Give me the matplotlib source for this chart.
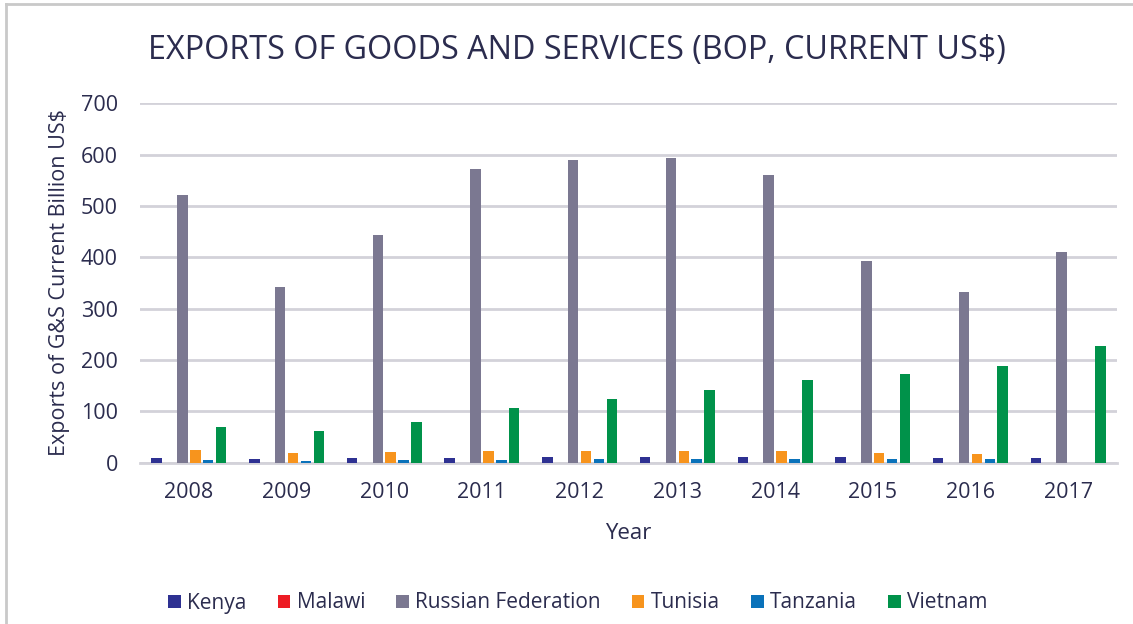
import matplotlib
matplotlib.use("Agg")
import matplotlib.pyplot as plt
import numpy as np
from matplotlib.lines import Line2D
from matplotlib.patches import Patch

years = ["2008", "2009", "2010", "2011", "2012", "2013", "2014", "2015", "2016", "2017"]
kenya = [9.5, 7, 9, 9, 10.5, 10.5, 10.5, 10.5, 9.5, 9]
malawi = [0.3, 0.3, 0.3, 0.3, 0.3, 0.3, 0.3, 0.3, 0.3, 0]
russia = [521, 342, 443, 573, 590, 593, 561, 392, 332, 410]
tunisia = [24, 19, 21, 22, 22, 22, 22, 18, 17, 0]
tanzania = [6, 4, 6, 6, 8, 8, 8, 8, 8, 0]
vietnam = [70, 62, 79, 107, 125, 142, 162, 172, 189, 227]

series = [("Kenya", kenya, "#2E3192"),
          ("Malawi", malawi, "#ED1C24"),
          ("Russian Federation", russia, "#7B7891"),
          ("Tunisia", tunisia, "#F7941D"),
          ("Tanzania", tanzania, "#0A72BA"),
          ("Vietnam", vietnam, "#00924A")]

text_col = "#2B2C4E"
font = "Open Sans"

fig = plt.figure(figsize=(11.33, 6.24), dpi=100)
ax = fig.add_axes([140/1133, 1-462.7/624, (1117-140)/1133, (462.7-103.3)/624])

x = np.arange(len(years))
slot = 0.132
bw = 0.108
for i, (name, vals, col) in enumerate(series):
    ax.bar(x + (i - 2.5) * slot, vals, width=bw, color=col, zorder=3, label=name)

ax.set_xlim(-0.5, len(years) - 0.5)
ax.set_ylim(0, 700)
ax.set_yticks(range(0, 701, 100))
ax.set_xticks(x)
ax.set_xticklabels(years)
ax.grid(axis="y", color="#D3D2D9", linewidth=2, zorder=0)
for s in ["top", "right", "left"]:
    ax.spines[s].set_visible(False)
ax.spines["bottom"].set_color("#D3D2D9")
ax.spines["bottom"].set_linewidth(2)
ax.tick_params(axis="both", length=0, labelsize=15.5, labelcolor=text_col)
ax.tick_params(axis="y", pad=16)
ax.tick_params(axis="x", pad=14)
for lab in ax.get_xticklabels() + ax.get_yticklabels():
    lab.set_fontfamily(font)

ax.set_xlabel("Year", fontsize=16, color=text_col, fontfamily=font, labelpad=14)
ax.set_ylabel("Exports of G&S Current Billion US$", fontsize=15.5, color=text_col,
              fontfamily=font, labelpad=8)

fig.text(0.509, 1-50/624, "EXPORTS OF GOODS AND SERVICES (BOP, CURRENT US$)",
         ha="center", va="center", fontsize=23.3, color=text_col, fontfamily=font)

handles = [Patch(facecolor=c, edgecolor="none") for _, _, c in series]
labels = [n for n, _, _ in series]
fig.legend(handles, labels, loc="center", bbox_to_anchor=(0.51, 1-603/624), ncol=6,
           frameon=False, handlelength=0.6, handleheight=0.6, handletextpad=0.3,
           columnspacing=1.5, prop={"family": font, "size": 15}, labelcolor=text_col)

# chart frame lines (top and left)
fig.add_artist(Line2D([6/1133, 6/1133], [0, 1-4/624], transform=fig.transFigure,
                      color="#C9C9C9", linewidth=2))
fig.add_artist(Line2D([6/1133, 1], [1-4/624, 1-4/624], transform=fig.transFigure,
                      color="#C9C9C9", linewidth=2))

fig.savefig("out.png", dpi=100)
